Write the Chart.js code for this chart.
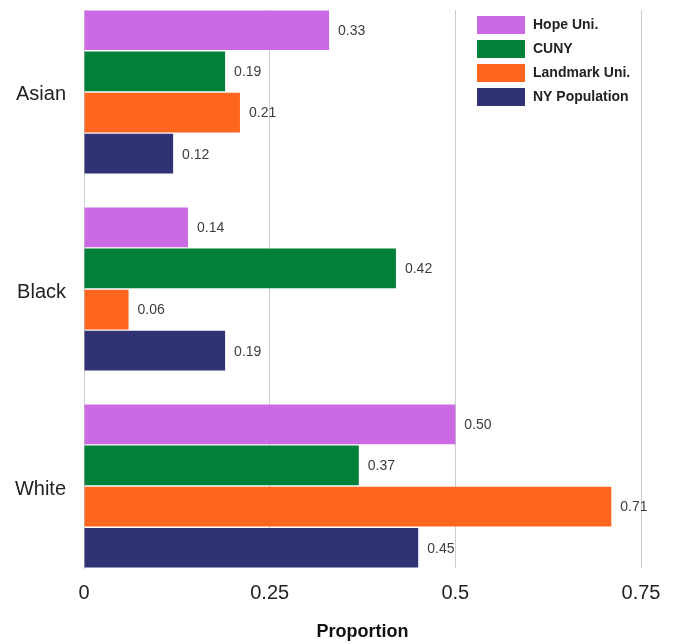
<!DOCTYPE html>
<html>
<head>
<meta charset="utf-8">
<script src="https://cdn.jsdelivr.net/npm/chart.js@4.4.1/dist/chart.umd.min.js"></script>
<style>
  html, body { margin: 0; padding: 0; background: #fff; }
  #wrap { width: 677px; height: 644px; }
</style>
</head>
<body>
<div id="wrap"><canvas id="ethnicityChart" width="677" height="644"></canvas></div>
<script>
var groups = ["Asian", "Black", "White"];
var seriesNames = ["Hope Uni.", "CUNY", "Landmark Uni.", "NY Population"];
var hopeUni = [0.33, 0.14, 0.50];
var cuny = [0.19, 0.42, 0.37];
var landmarkUni = [0.21, 0.06, 0.71];
var nyPopulation = [0.12, 0.19, 0.45];
var xTicks = [0, 0.25, 0.5, 0.75];
var colors = ["#cb6be3", "#008038", "#fe6620", "#2f3374"];

var seriesValues = [hopeUni, cuny, landmarkUni, nyPopulation];

// bars sit on a linear index axis so the groups line up with the picture
function toPoints(arr) {
  return arr.map(function(v, i) { return { x: v, y: i }; });
}

var datasets = seriesValues.map(function(vals, i) {
  return {
    label: seriesNames[i],
    data: toPoints(vals),
    backgroundColor: colors[i],
    borderWidth: 0,
    categoryPercentage: 0.835,
    barPercentage: 0.965
  };
});

Chart.defaults.font.family = "'Liberation Sans', Arial, sans-serif";
Chart.defaults.color = "#222";

// value labels at the end of each bar
var valueLabels = {
  id: 'valueLabels',
  afterDatasetsDraw: function(chart) {
    var ctx = chart.ctx;
    ctx.save();
    ctx.font = "14px 'Liberation Sans', Arial, sans-serif";
    ctx.fillStyle = '#3d3d3d';
    ctx.textAlign = 'left';
    ctx.textBaseline = 'middle';
    chart.data.datasets.forEach(function(ds, i) {
      var meta = chart.getDatasetMeta(i);
      meta.data.forEach(function(bar, j) {
        ctx.fillText(ds.data[j].x.toFixed(2), bar.x + 9, bar.y + 1);
      });
    });
    ctx.restore();
  }
};

// legend drawn inside the plot, top right
var insideLegend = {
  id: 'insideLegend',
  afterDraw: function(chart) {
    var ctx = chart.ctx;
    var area = chart.chartArea;
    var x0 = area.right - 164;
    var y0 = area.top + 6;
    ctx.save();
    ctx.font = "bold 14px 'Liberation Sans', Arial, sans-serif";
    ctx.textBaseline = 'middle';
    ctx.textAlign = 'left';
    chart.data.datasets.forEach(function(ds, i) {
      var cy = y0 + 9 + i * 24;
      ctx.fillStyle = ds.backgroundColor;
      ctx.fillRect(x0, cy - 9, 48, 18);
      ctx.fillStyle = '#222';
      ctx.fillText(ds.label, x0 + 56, cy);
    });
    ctx.restore();
  }
};

var ctx = document.getElementById('ethnicityChart').getContext('2d');
var chart = new Chart(ctx, {
  type: 'bar',
  data: { datasets: datasets },
  options: {
    indexAxis: 'y',
    responsive: false,
    animation: false,
    layout: { padding: { top: 10, right: 36, bottom: 0, left: 0 } },
    plugins: {
      legend: { display: false },
      tooltip: { enabled: false }
    },
    scales: {
      x: {
        type: 'linear',
        min: 0,
        max: 0.75,
        afterBuildTicks: function(scale) {
          scale.ticks = xTicks.map(function(v) { return { value: v }; });
        },
        afterFit: function(scale) { scale.height = 76; },
        ticks: {
          padding: 13,
          color: '#222',
          font: { size: 20 },
          callback: function(v) { return String(v); }
        },
        grid: { color: '#cccccc', drawTicks: false },
        border: { display: false },
        title: {
          display: true,
          text: 'Proportion',
          color: '#111',
          font: { size: 18, weight: 'bold' },
          padding: { top: 17, bottom: 1 }
        }
      },
      y: {
        type: 'linear',
        reverse: true,
        offset: false,
        bounds: 'data',
        min: -0.416,
        max: 2.416,
        afterBuildTicks: function(scale) {
          scale.ticks = groups.map(function(g, i) { return { value: i }; });
        },
        afterFit: function(scale) {
          scale.width = 84;
          scale.paddingTop = 0;
          scale.paddingBottom = 0;
        },
        ticks: {
          padding: 18,
          labelOffset: 3,
          color: '#222',
          font: { size: 20 },
          callback: function(v) { return groups[v]; }
        },
        grid: { display: false, drawTicks: false, offset: false },
        border: { display: true, color: '#cccccc' }
      }
    }
  },
  plugins: [valueLabels, insideLegend]
});
</script>
</body>
</html>
